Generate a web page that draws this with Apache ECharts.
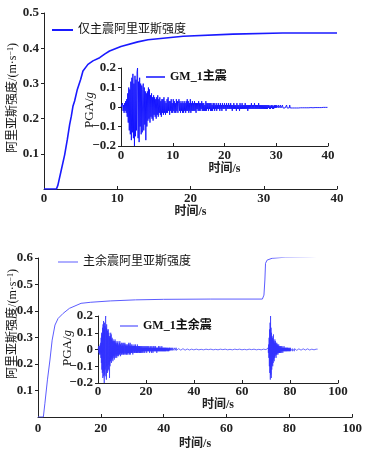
<!DOCTYPE html>
<html><head><meta charset="utf-8">
<script src="https://cdn.jsdelivr.net/npm/echarts@6.0.0/dist/echarts.min.js"></script>
<style>html,body{margin:0;padding:0;background:#fff}#c{width:365px;height:461px}</style>
</head><body><div id="c"></div>
<script>
// ---- Data ----
// Top: main shock only, Arias intensity (m/s) vs time (s)
const mainTime   = [0, 1.7, 1.9, 2.36, 2.82, 3.18, 3.5, 3.73, 3.95, 4.18, 4.55, 5.0, 5.32, 6.0, 6.68, 7.6, 8.27, 8.95, 10.5, 12.8, 14.2, 19, 25.8, 32.6, 40];
const mainArias  = [0, 0, 0.011, 0.054, 0.097, 0.14, 0.183, 0.207, 0.235, 0.25, 0.283, 0.311, 0.335, 0.354, 0.364, 0.373, 0.383, 0.392, 0.405, 0.418, 0.424, 0.434, 0.44, 0.443, 0.443];
// Bottom: main shock + aftershock, Arias intensity
const seqTime    = [0, 1.7, 2.2, 3.0, 3.8, 4.5, 5.4, 6.4, 8.0, 10.0, 13.7, 16.8, 23, 31, 40, 55, 71.4, 71.9, 72.2, 72.4, 72.9, 74.5, 78.7, 87, 91.9];
const seqArias   = [0, 0, 0.052, 0.14, 0.215, 0.29, 0.347, 0.372, 0.391, 0.41, 0.429, 0.433, 0.438, 0.442, 0.444, 0.445, 0.445, 0.46, 0.517, 0.58, 0.592, 0.599, 0.603, 0.605, 0.607];
// GM_1 main shock accelerogram (g), sampled every 0.1 s from 0 s
const gmDt = 0.1;
const gm1Main = [
 0, .01, -.01, .02, -.02, .01, -.03, .02, -.02, .03,
 -.03, .04, -.05, .07, -.08, .1, -.12, .09, -.14, .13,
 -.17, .15, -.13, .17, -.16, .12, -.2, .16, -.15, .14,
 -.12, .18, .2, -.16, .13, -.18, .15, -.1, .12, -.14,
 .11, -.13, .09, .12, -.12, .1, -.09, .08, -.17, .07,
 -.1, .08, -.07, .1, -.06, .09, -.08, .06, -.05, .07,
 -.06, .05, -.07, .06, -.04, .05, -.05, .04, -.06, .05,
 -.04, .06, -.05, .04, -.03, .05, -.04, .03, -.05, .04,
 -.03, .04, -.04, .05, -.03, .03, -.04, .02, -.03, .04,
 -.03, .05, -.02, .03, -.04, .03, -.02, .04, -.03, .02,
 -.03, .04, -.02, .03, -.03, .02, -.03, .04, -.02, .03,
 -.03, .02, .04, -.02, .03, -.03, .02, -.02, .03, -.03,
 .02, -.03, .03, -.02, .02, -.03, .03, -.02, .04, -.02,
 .03, -.03, .02, -.02, .04, -.03, .02, -.02, .03, -.02,
 .02, -.02, .03, -.02, .02, -.03, .02, -.01, .02, -.02,
 .03, -.02, .02, -.02, .02, -.01, .03, -.02, .02, -.02,
 .02, -.02, .01, -.02, .03, -.02, .02, -.01, .02, -.02,
 .02, -.01, .02, -.02, .02, -.02, .01, -.02, .02, -.01,
 .02, -.02, .01, -.01, .02, -.02, .01, -.01, .02, -.01,
 .01, -.02, .02, -.01, .01, -.02, .02, -.01, .01, -.01,
 .02, -.01, .01, -.02, .02, -.01, .01, -.01, .02, -.01,
 .01, -.01, .02, -.01, .01, -.02, .01, -.01, .02, -.01,
 .01, -.01, .01, -.02, .02, -.01, .01, -.01, .01, -.02,
 .02, -.01, .01, -.01, .02, -.01, .01, -.01, .01, -.01,
 .02, -.01, .01, -.01, .01, -.02, .01, -.01, .01, -.01,
 .01, -.01, .02, -.01, .01, -.01, .01, -.01, .02, -.01,
 .01, -.01, .01, -.01, .01, -.01, .02, -.01, .01, -.01,
 .01, -.01, .01, -.01, .01, -.01, .01, -.01, .01, -.01,
 .01, -.01, .01, -.01, .01, -.005, .01, -.01, .005, -.01,
 .01, -.005, .01, -.01, .005, -.01, .01, -.005, .01, -.005,
 .01, -.005, .005, -.01, .01, -.005, .005, -.005, .01, -.005,
 .005, -.005, .01, -.005, .005, -.01, .005, -.005, .005, -.005,
 .01, -.005, .005, -.005, .005, -.005, .01, -.005, .005, -.005,
 .005, -.005, .005, -.005, .005, -.005, .005, -.005, .005, -.005,
 .005, -.004, .004, -.005, .004, -.004, .005, -.004, .004, -.004,
 .004, -.004, .004, -.004, .005, -.004, .004, -.004, .004, -.004,
 .004, -.003, .004, -.004, .003, -.004, .004, -.003, .004, -.003,
 .003, -.004, .003, -.003, .004, -.003, .003, -.003, .003, -.003,
 .003, -.003, .003, -.003, .003, -.002, .003, -.003, .002, -.003,
 .002, -.002, .003, -.002, .002, -.002, .002, -.002, .002, -.002,
 0
];
// quiet interval between the shocks, sampled every 1 s starting at 41 s
const gm1QuietStart = 41, gm1QuietDt = 1;
const gm1Quiet = [.002, -.002, .001, -.002, .002, -.001, .002, -.002, .001, -.002,
 .002, -.001, .002, -.002, .001, -.002, .002, -.001, .002, -.002,
 .001, -.002, .002, -.001, .002, -.002, .001, -.002, .002, -.001];
// GM_1 aftershock accelerogram (g), every 0.1 s from 70.6 s
const gm1AfterStart = 70.6;
const gm1After = [
 0, .005, -.01, .01, -.02, .03, -.05, .07, -.1, .12,
 -.14, .16, -.18, .2, -.15, .13, -.17, .1, -.12, .08,
 -.09, .07, -.1, .06, -.08, .09, -.06, .05, -.07, .04,
 -.05, .06, -.04, .05, -.03, .04, -.05, .03, -.03, .04,
 -.03, .03, -.02, .03, -.03, .02, -.02, .03, -.02, .02,
 -.02, .02, -.02, .01, -.02, .02, -.01, .02, -.02, .01,
 -.01, .02, -.01, .01, -.02, .01, -.01, .01, -.01, .02,
 -.01, .01, -.01, .01, -.01, .01, -.01, .01, -.01, .01,
 -.01, .01, -.01, .01, -.01, .01, -.005, .01, -.01, .005,
 -.01, .005, -.01, .01, -.005, .01, -.01, .005, -.005, .01,
 -.005, .01, -.005, .005, -.01, .005, -.005, .01, -.005, .005,
 -.005, .005, -.01, .005, -.005, .005, -.005, .01, -.005, .005,
 -.005, .005, -.005, .005, -.005, .005, -.005, .005, -.005, .005,
 -.005, .004, -.005, .005, -.004, .005, -.004, .004, -.005, .004,
 -.004, .005, -.004, .004, -.004, .005, -.004, .004, -.004, .004,
 -.004, .004, -.003, .004, -.004, .003, -.004, .004, -.003, .004,
 -.003, .004, -.003, .003, -.004, .003, -.003, .004, -.003, .003,
 -.003, .003, -.003, .003, -.003, .003, -.003, .003, -.003, .003,
 -.003, .003, -.002, .003, -.003, .002, -.003, .002, -.002, .003,
 -.002, .002, -.003, .002, -.002, .002, -.002, .002, -.002, .002,
 -.002, .002, -.002, .002, -.002, .002, -.002, .002, -.002, .002,
 0
];

// ---- build pairs ----
const pairs = (t, v) => t.map((x, i) => [x, v[i]]);
const sampled = (t0, dt, v) => v.map((a, i) => [+(t0 + i * dt).toFixed(3), a]);
const topInset = sampled(0, gmDt, gm1Main);
const botInset = sampled(0, gmDt, gm1Main)
  .concat(sampled(gm1QuietStart, gm1QuietDt, gm1Quiet))
  .concat(sampled(gm1AfterStart, gmDt, gm1After));

const NUM = "'Liberation Serif','Noto Sans CJK SC',serif";
const AX = '#222';
const lab = (m) => ({fontFamily: NUM, fontSize: 13, fontWeight: 'bold', color: AX, margin: m});
const minus = v => (v < 0 ? '\u2212' : '') + Math.abs(v).toFixed(1);

function xAx(grid, max, interval, margin, gap) {
  return {type: 'value', gridIndex: grid, min: 0, max: max, interval: interval,
    splitLine: {show: false},
    axisLine: {onZero: false, lineStyle: {color: AX, width: 1}},
    axisTick: {inside: true, length: 3, lineStyle: {color: AX}},
    axisLabel: lab(margin),
    name: '时间/s', nameLocation: 'middle', nameGap: gap,
    nameTextStyle: {fontFamily: NUM, fontSize: 12, fontWeight: 'bold', color: AX}};
}
function yAx(grid, min, max, showMin, fmt) {
  return {type: 'value', gridIndex: grid, min: min, max: max, interval: 0.1,
    splitLine: {show: false},
    axisLine: {show: true, onZero: false, lineStyle: {color: AX, width: 1}},
    axisTick: {show: true, inside: false, length: 3, lineStyle: {color: AX}},
    axisLabel: Object.assign(lab(5), {showMinLabel: showMin, formatter: fmt})};
}
const legendText = (bold) => ({fontFamily: NUM, fontSize: 12, fontWeight: bold ? 'bold' : 'normal', color: '#111'});
const yTitle = (x, y) => ({type: 'text', x: x, y: y, rotation: Math.PI / 2,
  style: {text: '阿里亚斯强度/(m·s{sup|\u22121})', fontFamily: NUM, fontSize: 12, fill: '#111',
    align: 'center', verticalAlign: 'middle', rich: {sup: {fontSize: 8, verticalAlign: 'top', fontFamily: NUM}}}});
const pgaTitle = (x, y) => ({type: 'text', x: x, y: y, rotation: Math.PI / 2,
  style: {text: 'PGA/{i|g}', fontFamily: NUM, fontSize: 13, fill: '#111', align: 'center', verticalAlign: 'middle',
    rich: {i: {fontStyle: 'italic', fontFamily: NUM, fontSize: 13}}}});

const chart = echarts.init(document.getElementById('c'), null, {renderer: 'canvas'});
chart.setOption({
  animation: false,
  backgroundColor: '#fff',
  grid: [
    {left: 44, top: 13, width: 293, height: 176},
    {left: 121, top: 68, width: 207, height: 78},
    {left: 38, top: 258, width: 320, height: 159},
    {left: 98, top: 316, width: 240, height: 67}
  ],
  xAxis: [
    xAx(0, 40, 10, 3, 17),
    xAx(1, 40, 10, 3, 16),
    xAx(2, 100, 20, 5, 21),
    xAx(3, 100, 20, 2, 14)
  ],
  yAxis: [
    yAx(0, 0, 0.5, false, v => v.toFixed(1)),
    yAx(1, -0.2, 0.2, true, v => (Math.abs(v) < 1e-9 ? '0' : minus(v))),
    yAx(2, 0, 0.6, false, v => v.toFixed(1)),
    yAx(3, -0.2, 0.2, true, v => (Math.abs(v) < 1e-9 ? '0' : minus(v)))
  ],
  legend: [
    {data: ['仅主震阿里亚斯强度'], icon: 'rect', left: 52, top: 24, itemWidth: 21, itemHeight: 2, itemGap: 0, padding: 0, textStyle: legendText(false)},
    {data: ['GM_1主震'], icon: 'rect', left: 146, top: 71, itemWidth: 19, itemHeight: 1.5, itemGap: 0, padding: 0, textStyle: legendText(true)},
    {data: ['主余震阿里亚斯强度'], icon: 'rect', left: 58, top: 256, itemWidth: 20, itemHeight: 1, itemGap: 0, padding: 0, textStyle: legendText(false)},
    {data: ['GM_1主余震'], icon: 'rect', left: 120, top: 320, itemWidth: 18, itemHeight: 1, itemGap: 0, padding: 0, textStyle: legendText(true)}
  ],
  graphic: [yTitle(13, 98), yTitle(13, 324), pgaTitle(90, 110), pgaTitle(68, 348)],
  series: [
    {name: '仅主震阿里亚斯强度', type: 'line', xAxisIndex: 0, yAxisIndex: 0, data: pairs(mainTime, mainArias),
      symbol: 'none', color: '#1a1aff', lineStyle: {width: 1.6, color: '#1a1aff'}},
    {name: 'GM_1主震', type: 'line', xAxisIndex: 1, yAxisIndex: 1, data: topInset,
      symbol: 'none', color: '#1010ff', lineStyle: {width: 0.9, color: '#1010ff'}},
    {name: '主余震阿里亚斯强度', type: 'line', xAxisIndex: 2, yAxisIndex: 2, data: pairs(seqTime, seqArias),
      symbol: 'none', color: '#5c5cff', lineStyle: {width: 1, color: '#5c5cff'}},
    {name: 'GM_1主余震', type: 'line', xAxisIndex: 3, yAxisIndex: 3, data: botInset,
      symbol: 'none', color: '#3030ff', lineStyle: {width: 0.7, color: '#3030ff'}}
  ]
});
</script></body></html>
